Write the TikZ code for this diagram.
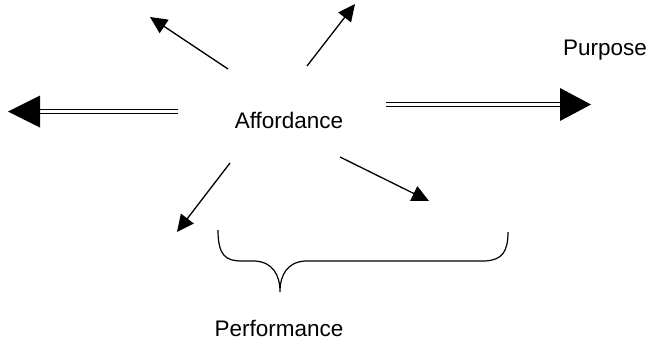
\documentclass[tikz,border=0pt]{standalone}
\usepackage{fontspec}
\setmainfont{Liberation Sans}
\usetikzlibrary{arrows.meta}
\begin{document}
\begin{tikzpicture}[x=1pt,y=-1pt,
  lbl/.style={font=\fontsize{22.5}{27}\selectfont, inner sep=0pt},
  thinarrow/.style={line width=1.3pt, -{Triangle[length=17pt,width=16pt]}},
  dbl/.style={double, line width=1.6pt, double distance=2.4pt},
  headfill/.style={fill=black, draw=none}]
\useasboundingbox (0,0) rectangle (648,341);
% labels
\node[lbl] (aff) at (289,120) {Affordance};
\node[lbl] (purp) at (605,50) {Purpose};
\node[lbl] (perf) at (279,328) {Performance};
% thin arrows
\coordinate (ul0) at (228,69);  \coordinate (ul1) at (150,17);
\coordinate (ur0) at (307,66);  \coordinate (ur1) at (355,4);
\coordinate (dl0) at (230,163); \coordinate (dl1) at (177,232);
\coordinate (dr0) at (340,157); \coordinate (dr1) at (429,201);
\draw[thinarrow] (ul0) -- (ul1);
\draw[thinarrow] (ur0) -- (ur1);
\draw[thinarrow] (dl0) -- (dl1);
\draw[thinarrow] (dr0) -- (dr1);
% double arrows
\coordinate (l0) at (178,111.5); \coordinate (l1) at (40,111.5); \coordinate (ltip) at (8,111.5);
\draw[dbl] (l0) -- (l1);
\fill[headfill] (ltip) -- ([yshift=-16]l1) -- ([yshift=16]l1) -- cycle;
\coordinate (r0) at (386,104.5); \coordinate (r1) at (560,104.5); \coordinate (rtip) at (591,104.5);
\draw[dbl] (r0) -- (r1);
\fill[headfill] (rtip) -- ([yshift=-16.5]r1) -- ([yshift=16.5]r1) -- cycle;
% brace
\coordinate (bl) at (218,230); \coordinate (bm) at (280,292); \coordinate (br) at (508,232);
\draw[line width=1.2pt] (bl) .. controls (218,256) and (226,261) .. (242,261)
  -- (255,261) .. controls (272,262) and (280,274) .. (bm)
  .. controls (280,274) and (288,262) .. (305,261)
  -- (485,261) .. controls (502,260) and (508,252) .. (br);
\end{tikzpicture}
\end{document}
